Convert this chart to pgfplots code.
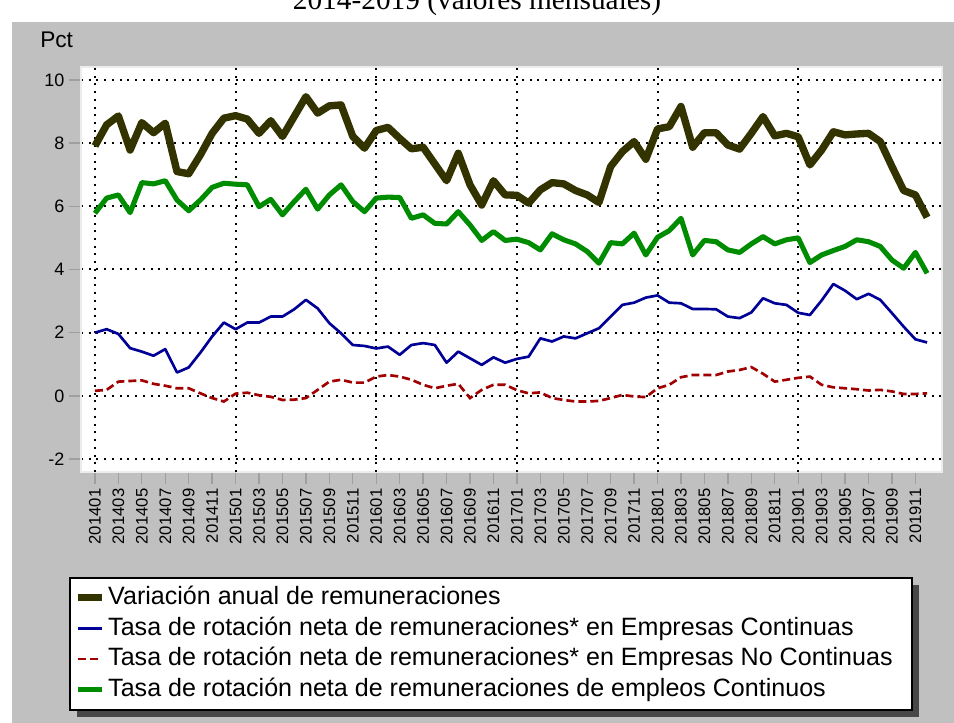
\documentclass[border=0pt]{standalone}
\usepackage{fontspec}
\setmainfont{Liberation Sans}
\newfontfamily\seriffont{Liberation Serif}
\usepackage{pgfplots}
\usepackage{pgfplotstable}
\pgfplotsset{compat=1.18}
\definecolor{bggray}{RGB}{192,192,192}
\definecolor{colV}{RGB}{51,51,0}
\definecolor{colB}{RGB}{0,0,150}
\definecolor{colR}{RGB}{160,0,0}
\definecolor{colG}{RGB}{0,140,0}

\pgfplotstableread{
m V B R G
0 7.91 2.00 0.16 5.78
1 8.58 2.11 0.19 6.26
2 8.86 1.96 0.45 6.36
3 7.78 1.51 0.47 5.80
4 8.65 1.40 0.49 6.75
5 8.33 1.27 0.38 6.71
6 8.63 1.48 0.32 6.81
7 7.10 0.74 0.24 6.20
8 7.03 0.90 0.24 5.86
9 7.63 1.37 0.08 6.20
10 8.31 1.88 -0.07 6.60
11 8.79 2.32 -0.18 6.73
12 8.87 2.11 0.07 6.70
13 8.76 2.32 0.10 6.68
14 8.31 2.32 0.02 5.99
15 8.71 2.51 -0.03 6.22
16 8.21 2.51 -0.13 5.73
17 8.84 2.74 -0.12 6.15
18 9.47 3.04 -0.07 6.54
19 8.95 2.77 0.19 5.91
20 9.18 2.30 0.45 6.36
21 9.21 1.98 0.51 6.68
22 8.21 1.61 0.42 6.15
23 7.84 1.58 0.42 5.83
24 8.40 1.50 0.61 6.26
25 8.50 1.56 0.66 6.29
26 8.15 1.30 0.61 6.28
27 7.82 1.61 0.51 5.62
28 7.87 1.67 0.35 5.73
29 7.34 1.61 0.24 5.46
30 6.81 1.05 0.32 5.44
31 7.68 1.40 0.38 5.83
32 6.68 1.19 -0.07 5.41
33 6.04 0.98 0.19 4.92
34 6.81 1.22 0.35 5.20
35 6.36 1.05 0.35 4.92
36 6.35 1.17 0.18 4.96
37 6.10 1.24 0.08 4.85
38 6.52 1.82 0.11 4.62
39 6.75 1.72 -0.07 5.13
40 6.71 1.88 -0.13 4.94
41 6.50 1.82 -0.18 4.81
42 6.36 1.98 -0.18 4.57
43 6.12 2.14 -0.16 4.20
44 7.26 2.51 -0.07 4.85
45 7.73 2.88 0.03 4.81
46 8.05 2.95 -0.02 5.15
47 7.49 3.11 -0.04 4.46
48 8.45 3.18 0.24 5.02
49 8.52 2.95 0.35 5.23
50 9.16 2.93 0.59 5.62
51 7.87 2.75 0.66 4.46
52 8.33 2.75 0.66 4.92
53 8.33 2.74 0.66 4.88
54 7.94 2.51 0.77 4.62
55 7.81 2.46 0.82 4.54
56 8.31 2.64 0.91 4.81
57 8.84 3.09 0.70 5.04
58 8.23 2.93 0.45 4.81
59 8.31 2.88 0.51 4.94
60 8.20 2.63 0.57 5.00
61 7.31 2.56 0.61 4.22
62 7.78 3.02 0.35 4.46
63 8.36 3.54 0.27 4.60
64 8.26 3.33 0.24 4.73
65 8.29 3.06 0.21 4.94
66 8.31 3.23 0.17 4.88
67 8.05 3.04 0.19 4.73
68 7.26 2.62 0.14 4.30
69 6.50 2.19 0.06 4.04
70 6.36 1.79 0.06 4.54
71 5.65 1.69 0.08 3.88
}\data

\begin{document}
\begin{tikzpicture}[x=0.75pt,y=0.75pt]
\useasboundingbox (0,0) rectangle (954,723);
\fill[white] (0,0) rectangle (954,723);
\fill[bggray] (12,0) rectangle (954,701);
\begin{scope}
\clip (0,0) rectangle (954,723);
\node[anchor=base, font=\seriffont\fontsize{22}{26}\selectfont, inner sep=0pt] at (477,713) {2014-2019 (valores mensuales)};
\end{scope}
\node[anchor=base west, inner sep=0pt, font=\fontsize{17}{20}\selectfont] at (40,675) {Pct};
% legend frame and shadow
\fill[black!72] (77,6) rectangle (919,138);
\filldraw[fill=white, draw=black, line width=1.5pt] (70,13) rectangle (912,145);
\begin{axis}[
  scale only axis, width=645.75pt, height=303.75pt,
  at={(60.75pt,188.25pt)}, anchor=south west,
  xmin=-1.19, xmax=72.27, ymin=-2.41, ymax=10.41,
  axis background/.style={fill=white},
  axis line style={draw=white!85!gray, line width=1pt},
  ytick={-2,0,2,4,6,8,10},
  ymajorgrids,
  grid style={black, line width=1.5pt, dash pattern=on 1.5pt off 4.3pt},
  xtick={0,2,...,70},
  xticklabels={201401,201403,201405,201407,201409,201411,
               201501,201503,201505,201507,201509,201511,
               201601,201603,201605,201607,201609,201611,
               201701,201703,201705,201707,201709,201711,
               201801,201803,201805,201807,201809,201811,
               201901,201903,201905,201907,201909,201911},
  x tick label style={rotate=90, anchor=east, font=\fontsize{12.5}{14}\selectfont},
  y tick label style={font=\fontsize{13.5}{16}\selectfont},
  /pgf/number format/assume math mode=true,
  tick align=outside, tick pos=left,
  major tick length=9pt,
  tick style={gray!75, line width=1pt},
  extra x ticks={0,12,24,36,48,60},
  extra x tick labels={},
  extra x tick style={grid=major, major tick length=0pt},
  legend style={at={(-0.0128,-0.262)}, anchor=north west,
    draw=none, fill=none,
    font=\fontsize{18.8}{22}\selectfont,
    inner xsep=3pt, inner ysep=3pt, row sep=0pt,
    nodes={inner xsep=2pt, inner ysep=2.5pt, text height=14pt, text depth=4pt}},
  legend cell align=left,
  legend image code/.code={\draw[#1] (0pt,0pt) -- (18pt,0pt);},
]
\addplot[colV, line width=5.5pt, line join=round] table[x=m, y=V] {\data};
\addlegendentry{Variación anual de remuneraciones}
\addplot[colB, line width=2pt, line join=round] table[x=m, y=B] {\data};
\addlegendentry{Tasa de rotación neta de remuneraciones* en Empresas Continuas}
\addplot[colR, line width=2pt, dash pattern=on 6pt off 3pt] table[x=m, y=R] {\data};
\addlegendentry{Tasa de rotación neta de remuneraciones* en Empresas No Continuas}
\addplot[colG, line width=3.8pt, line join=round] table[x=m, y=G] {\data};
\addlegendentry{Tasa de rotación neta de remuneraciones de empleos Continuos}
\end{axis}
\end{tikzpicture}
\end{document}
